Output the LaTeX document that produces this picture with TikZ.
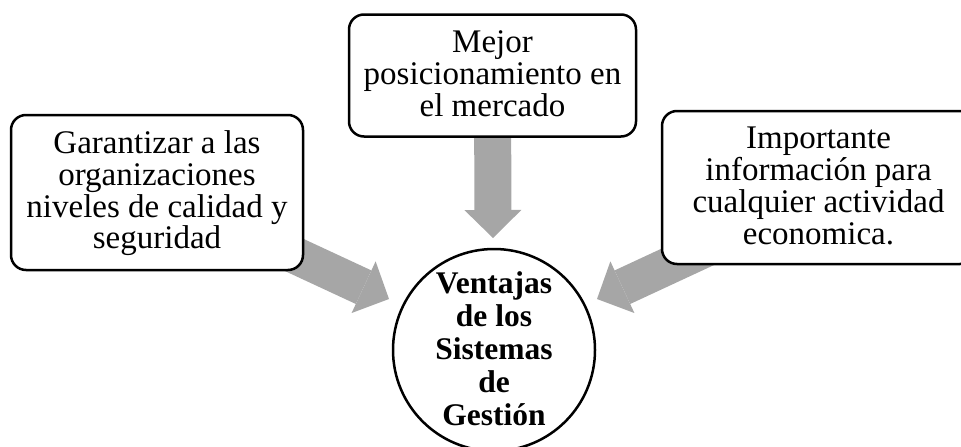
\documentclass[tikz,border=0pt]{standalone}
\usepackage{fontspec}
\setmainfont{Liberation Serif}
\usetikzlibrary{arrows.meta,backgrounds}
\definecolor{arrowgray}{HTML}{A6A6A6}
\newcommand\topstrut{\rule{0pt}{25pt}}
\newcommand\botstrut{\rule[-7pt]{0pt}{7pt}}
\newcommand\htopstrut{\rule{0pt}{24pt}}
\newcommand\hbotstrut{\rule[-6pt]{0pt}{6pt}}
\tikzset{
  box/.style={draw=black, line width=2.5pt, rounded corners=15pt, fill=white,
    align=center, inner sep=0pt, font=\fontsize{33}{31.7}\selectfont},
  hub/.style={draw=black, line width=2.5pt, circle, fill=white,
    minimum size=202pt, inner sep=0pt},
  hubtext/.style={align=center, inner sep=0pt,
    font=\fontsize{31.5}{33}\selectfont\bfseries},
  blockarrow/.style={draw=arrowgray, line width=37pt,
    -{Triangle[length=28pt, width=57pt, line width=0pt]}},
}
\begin{document}
\begin{tikzpicture}[x=1pt, y=-1pt]
\path[use as bounding box, clip] (0,0) rectangle (961,447);

\node[box, minimum width=292pt, minimum height=155pt] (lbox) at (157,192.5)
  {\topstrut Garantizar a las\\organizaciones\\niveles de calidad y\\seguridad\botstrut};
\node[box, minimum width=287pt, minimum height=122pt] (tbox) at (492.5,75.5)
  {\topstrut Mejor\\posicionamiento en\\el mercado\botstrut};
\node[box, minimum width=313pt, minimum height=153pt] (rbox) at (818.5,187.5)
  {\topstrut Importante\\información para\\cualquier actividad\\economica.\botstrut};

\node[hub] (hub) at (494,350) {};
\node[hubtext] (hubt) at (hub.center)
  {\htopstrut Ventajas\\de los\\Sistemas\\de\\Gestión\hbotstrut};

\coordinate (ltip) at (389,299);
\coordinate (lstart) at (262,240);
\coordinate (rtip) at (597,299);
\coordinate (rstart) at (724,240);
\coordinate (ttip) at (493,238);

\begin{scope}[on background layer]
  \draw[blockarrow] (tbox.center) -- (ttip);
  \draw[blockarrow] (lstart) -- (ltip);
  \draw[blockarrow] (rstart) -- (rtip);
\end{scope}
\end{tikzpicture}
\end{document}
